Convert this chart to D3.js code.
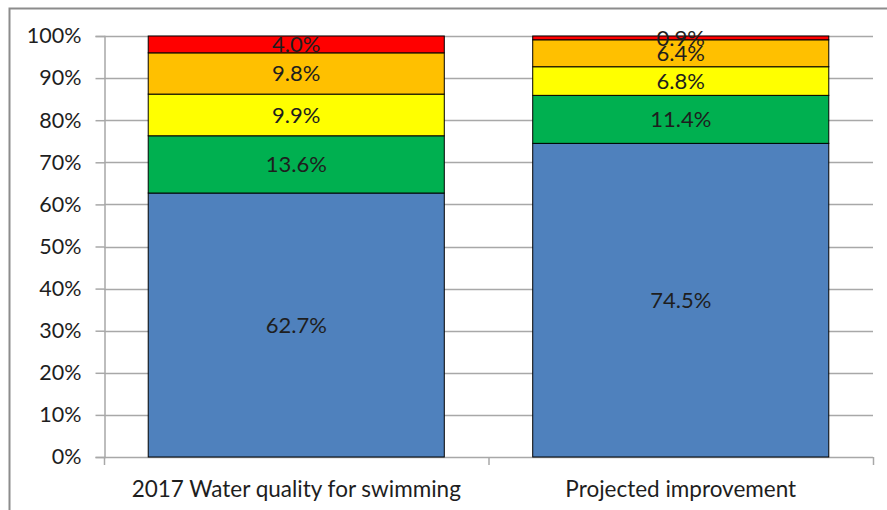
<!DOCTYPE html>
<html>
<head>
<meta charset="utf-8">
<script src="https://cdn.jsdelivr.net/npm/d3@7"></script>
<style>
  html, body { margin: 0; padding: 0; background: #fff; }
  svg { display: block; }
  text { font-family: Lato, "Open Sans", sans-serif; fill: #1e1e1e; }
</style>
</head>
<body>
<svg id="chart" width="887" height="510"></svg>
<script>
// Stacked share of sites by water-quality class (bottom to top)
const categories = ["2017 Water quality for swimming", "Projected improvement"];
const seriesNames = ["Blue", "Green", "Yellow", "Orange", "Red"];
const seriesColors = ["#4F81BD", "#00B050", "#FFFF00", "#FFC000", "#FF0000"];
const blueValues   = [62.7, 74.5];
const greenValues  = [13.6, 11.4];
const yellowValues = [9.9, 6.8];
const orangeValues = [9.8, 6.4];
const redValues    = [4.0, 0.9];
const yTicks = [0, 10, 20, 30, 40, 50, 60, 70, 80, 90, 100];

const seriesValues = [blueValues, greenValues, yellowValues, orangeValues, redValues];
const rows = categories.map((c, i) => {
  const r = { category: c };
  seriesNames.forEach((s, j) => { r[s] = seriesValues[j][i]; });
  return r;
});

const svg = d3.select("#chart");

// Chart frame
svg.append("rect")
  .attr("x", 9.5).attr("y", 8.5)
  .attr("width", 890).attr("height", 520)
  .attr("fill", "#fff")
  .attr("stroke", "#8c8c8c")
  .attr("stroke-width", 2);

const plot = { left: 104, right: 873, top: 36, bottom: 457 };

const x = d3.scaleBand()
  .domain(categories)
  .range([plot.left, plot.right])
  .paddingInner(0.23)
  .paddingOuter(0.115);

const xOuter = d3.scaleBand()
  .domain(categories)
  .range([plot.left, plot.right]);

const y = d3.scaleLinear().domain([0, 100]).range([plot.bottom, plot.top]);

// Horizontal gridlines
svg.append("g")
  .selectAll("line")
  .data(yTicks.filter(t => t > 0))
  .join("line")
  .attr("x1", plot.left).attr("x2", plot.right)
  .attr("y1", d => Math.round(y(d)) + 0.5).attr("y2", d => Math.round(y(d)) + 0.5)
  .attr("stroke", "#a8a8a8")
  .attr("stroke-width", 1.5);

// Y axis
const yAxis = svg.append("g")
  .attr("transform", `translate(${plot.left + 0.5},0)`)
  .call(d3.axisLeft(y).tickValues(yTicks).tickFormat(d => d + "%").tickSize(9).tickPadding(14));
yAxis.select(".domain").attr("stroke", "#a8a8a8").attr("stroke-width", 1.5);
yAxis.selectAll(".tick line").attr("stroke", "#a8a8a8").attr("stroke-width", 1.5);
yAxis.selectAll(".tick text")
  .attr("font-size", 21.5)
  .style("font-family", "Lato, 'Open Sans', sans-serif")
  .attr("fill", "#1e1e1e");

// X axis with category boundary ticks
const xg = svg.append("g");
xg.append("line")
  .attr("x1", plot.left).attr("x2", plot.right)
  .attr("y1", plot.bottom + 0.5).attr("y2", plot.bottom + 0.5)
  .attr("stroke", "#a8a8a8").attr("stroke-width", 1.5);
const boundaries = categories.map(c => xOuter(c)).concat([plot.right]);
xg.selectAll("line.bt")
  .data(boundaries)
  .join("line")
  .attr("class", "bt")
  .attr("x1", d => d + 0.5).attr("x2", d => d + 0.5)
  .attr("y1", plot.bottom).attr("y2", plot.bottom + 8)
  .attr("stroke", "#a8a8a8").attr("stroke-width", 1.5);
xg.selectAll("text")
  .data(categories)
  .join("text")
  .attr("x", d => xOuter(d) + xOuter.bandwidth() / 2)
  .attr("y", 497)
  .attr("text-anchor", "middle")
  .attr("font-size", 22.5)
  .text(d => d);

// Stacked bars
const stack = d3.stack().keys(seriesNames);
const layers = stack(rows);

const layerG = svg.append("g")
  .selectAll("g")
  .data(layers)
  .join("g")
  .attr("fill", (d, i) => seriesColors[i]);

layerG.selectAll("rect")
  .data(d => d)
  .join("rect")
  .attr("x", d => x(d.data.category))
  .attr("y", d => y(d[1]))
  .attr("width", x.bandwidth())
  .attr("height", d => y(d[0]) - y(d[1]))
  .attr("stroke", "#000")
  .attr("stroke-width", 1);

// Value labels centred in each segment
layers.forEach(layer => {
  svg.append("g")
    .selectAll("text")
    .data(layer)
    .join("text")
    .attr("x", d => x(d.data.category) + x.bandwidth() / 2)
    .attr("y", d => y((d[0] + d[1]) / 2))
    .attr("dy", "0.35em")
    .attr("text-anchor", "middle")
    .attr("font-size", 22)
    .text(d => (d[1] - d[0]).toFixed(1) + "%");
});
</script>
</body>
</html>
